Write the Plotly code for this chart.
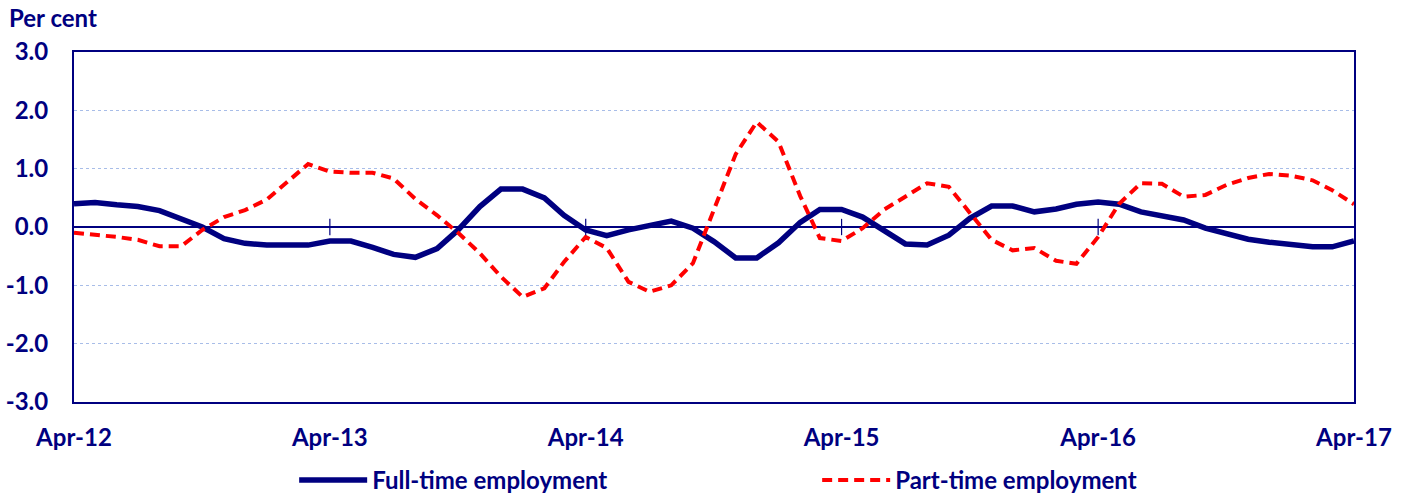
import pandas as pd
import plotly.graph_objects as go

dates = pd.date_range("2012-04-01", "2017-04-01", freq="MS")

full_time = [0.40, 0.42, 0.38, 0.35, 0.28, 0.15, 0.00, -0.20, -0.28, -0.31, -0.31, -0.31,
             -0.24, -0.24, -0.35, -0.47, -0.52, -0.37, -0.05, 0.35, 0.65, 0.65, 0.50, 0.20,
             -0.05, -0.15, -0.05, 0.03, 0.10, -0.02, -0.25, -0.53, -0.53, -0.27, 0.08, 0.30,
             0.30, 0.17, -0.07, -0.29, -0.31, -0.14, 0.15, 0.36, 0.36, 0.26, 0.31, 0.39,
             0.43, 0.39, 0.26, 0.19, 0.12, -0.02, -0.11, -0.21, -0.26, -0.31, -0.34, -0.34,
             -0.24]

part_time = [-0.10, -0.13, -0.17, -0.22, -0.33, -0.33, -0.05, 0.17, 0.29, 0.47, 0.80, 1.08,
             0.95, 0.93, 0.93, 0.83, 0.48, 0.20, -0.10, -0.45, -0.85, -1.20, -1.05, -0.60,
             -0.17, -0.36, -0.94, -1.11, -1.00, -0.62, 0.30, 1.25, 1.80, 1.46, 0.53, -0.19,
             -0.24, -0.02, 0.30, 0.52, 0.75, 0.69, 0.25, -0.22, -0.40, -0.36, -0.58, -0.63,
             -0.17, 0.40, 0.75, 0.74, 0.52, 0.55, 0.72, 0.84, 0.91, 0.88, 0.80, 0.63,
             0.39]

tick_dates = pd.date_range("2012-04-01", "2017-04-01", freq="12MS")
tick_labels = ["Apr-12", "Apr-13", "Apr-14", "Apr-15", "Apr-16", "Apr-17"]
y_ticks = [3, 2, 1, 0, -1, -2, -3]
y_labels = ["3.0", "2.0", "1.0", "0.0", "-1.0", "-2.0", "-3.0"]

NAVY = "#000080"
FONT = "Lato"
FS = 24

fig = go.Figure()
fig.add_trace(go.Scatter(x=dates, y=full_time, mode="lines", name="Full-time employment",
                         line=dict(color=NAVY, width=5.5)))
fig.add_trace(go.Scatter(x=dates, y=part_time, mode="lines", name="Part-time employment",
                         line=dict(color="#FF0000", width=4, dash="10px,6px")))

# zero line tick marks (Excel style crossing ticks)
for d in tick_dates[1:-1]:
    fig.add_shape(type="line", x0=d, x1=d, y0=-0.14, y1=0.14, xref="x", yref="y",
                  line=dict(color=NAVY, width=1.2), layer="above")

fig.update_layout(
    width=1408, height=497,
    margin=dict(l=74, r=54, t=52, b=95, autoexpand=False),
    paper_bgcolor="white", plot_bgcolor="white",
    font=dict(family=FONT, color=NAVY, size=FS),
    showlegend=True,
    legend=dict(orientation="h", x=0.172, xanchor="left", y=-0.16, yanchor="top",
                font=dict(family=FONT, size=FS, color=NAVY, weight="bold"),
                itemwidth=68, entrywidth=440, entrywidthmode="pixels"),
    xaxis=dict(range=[dates[0], dates[-1]], tickvals=tick_dates, ticktext=tick_labels,
               showgrid=False, showline=True, linecolor=NAVY, linewidth=2, mirror=True,
               ticks="", zeroline=False, ticklabelstandoff=13, automargin=False,
               tickfont=dict(family=FONT, size=FS, color=NAVY, weight="bold")),
    yaxis=dict(range=[-3, 3], tickvals=y_ticks, ticktext=y_labels,
               showgrid=True, gridcolor="#a8bde8", griddash="dot", gridwidth=1,
               showline=True, linecolor=NAVY, linewidth=2, mirror=True,
               zeroline=True, zerolinecolor=NAVY, zerolinewidth=1.5,
               ticks="", ticklabelstandoff=19, automargin=False,
               tickfont=dict(family=FONT, size=FS, color=NAVY, weight="bold")),
    annotations=[dict(text="Per cent", xref="paper", yref="paper", x=-0.052, y=1.0,
                      xanchor="left", yanchor="bottom", yshift=18, showarrow=False,
                      font=dict(family=FONT, size=FS, color=NAVY, weight="bold"))],
)

fig.write_html("out.html", config={"displayModeBar": False},
               post_script="document.body.style.margin='0';")
